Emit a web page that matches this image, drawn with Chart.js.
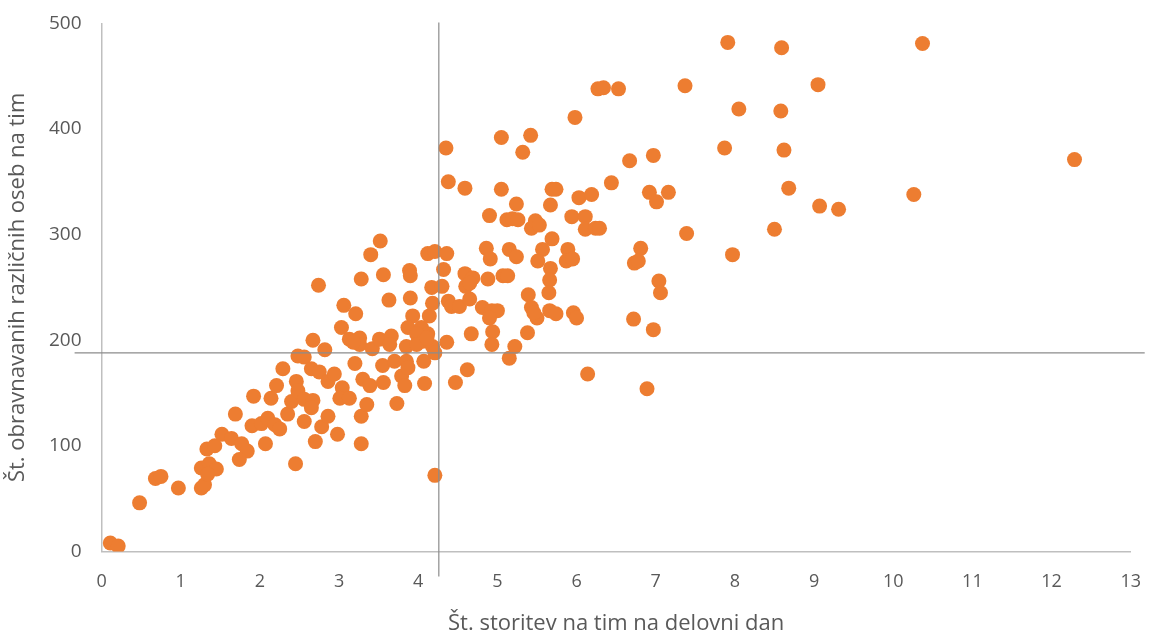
<!DOCTYPE html>
<html>
<head>
<meta charset="utf-8">
<script src="https://cdn.jsdelivr.net/npm/chart.js@4"></script>
<style>
  html, body { margin: 0; padding: 0; background: #fff; overflow: hidden; }
  #wrap { width: 1161px; height: 640px; margin-top: -8px; }
</style>
</head>
<body>
<div id="wrap"><canvas id="graf"></canvas></div>
<script>
// St. storitev na tim na delovni dan (x)
const storitve = [
  0.11, 0.21, 0.48, 0.68, 0.75, 0.97, 1.26, 1.30, 1.26, 1.36, 1.45, 1.34, 1.33, 1.43, 1.52, 1.64,
  1.77, 1.84, 1.74, 1.69, 1.92, 2.14, 2.21, 1.90, 2.02, 2.10, 2.19, 2.25, 2.35, 2.40, 2.07, 2.45,
  2.46, 2.48, 2.56, 2.67, 2.65, 2.29, 2.48, 2.56, 2.65, 2.75, 2.67, 2.82, 2.74, 2.56, 2.70, 2.78,
  2.86, 2.98, 2.86, 2.94, 3.04, 3.01, 3.13, 3.03, 3.06, 3.21, 3.13, 3.26, 3.26, 3.18, 3.20, 3.28,
  3.40, 3.52, 3.56, 3.28, 3.28, 3.35, 3.30, 3.39, 3.42, 3.51, 3.66, 3.55, 3.56, 3.70, 3.73, 3.79,
  3.83, 3.85, 3.87, 3.63, 3.89, 3.90, 3.90, 3.93, 4.14, 3.87, 4.04, 4.12, 3.98, 3.64, 3.85, 4.06,
  4.18, 4.21, 3.98, 4.11, 4.36, 4.07, 4.08, 4.21, 4.12, 4.21, 4.36, 4.32, 4.17, 4.30, 4.18, 4.38,
  4.42, 4.52, 4.65, 4.59, 4.69, 4.60, 4.65, 4.35, 4.38, 4.59, 4.62, 4.47, 4.67,
  5.05, 5.42, 5.32, 5.98, 5.05, 5.24, 4.90, 5.12, 5.19, 5.26, 5.43, 5.48, 5.53, 5.69, 5.74, 5.67,
  6.03, 6.19, 5.94, 6.11, 6.11, 6.24, 5.69, 4.86, 4.91, 5.15, 5.24, 5.57, 5.51, 5.89, 5.87, 5.95,
  5.67, 4.88, 5.07, 5.13, 5.66, 5.65, 5.39, 5.43, 5.50, 5.46, 4.81, 4.93, 5.00, 4.90, 5.66, 5.74,
  5.96, 6.00, 4.94, 5.38, 4.93, 5.22, 5.15, 6.14,
  6.27, 6.34, 6.53, 7.37, 9.05, 7.91, 8.59, 10.37, 8.05, 8.58, 7.87, 8.62, 6.67, 6.97, 6.44, 6.92,
  7.16, 7.01, 8.68, 9.07, 9.31, 6.29, 7.39, 8.50, 6.81, 6.73, 6.78, 7.97, 7.04, 7.06, 6.72, 6.97,
  6.89, 12.29, 10.26
];

// St. obravnavanih razlicnih oseb na tim (y)
const osebe = [
  8, 5, 46, 69, 71, 60, 60, 63, 79, 83, 78, 73, 97, 100, 111, 107,
  102, 95, 87, 130, 147, 145, 157, 119, 121, 126, 120, 116, 130, 142, 102, 83,
  161, 152, 144, 143, 136, 173, 185, 184, 173, 170, 200, 191, 252, 123, 104, 118,
  128, 111, 161, 168, 155, 145, 145, 212, 233, 225, 201, 202, 196, 198, 178, 258,
  281, 294, 262, 128, 102, 139, 163, 157, 192, 201, 204, 176, 160, 180, 140, 166,
  157, 180, 174, 238, 266, 261, 240, 223, 223, 212, 212, 206, 206, 196, 194, 199,
  194, 188, 196, 202, 198, 180, 159, 72, 282, 284, 282, 267, 250, 251, 235, 237,
  232, 232, 239, 263, 259, 251, 254, 382, 350, 344, 172, 160, 206,
  392, 394, 378, 411, 343, 329, 318, 314, 315, 314, 306, 313, 309, 343, 343, 328,
  335, 338, 317, 317, 305, 306, 296, 287, 277, 286, 279, 286, 275, 286, 275, 277,
  268, 258, 261, 261, 257, 245, 243, 231, 221, 226, 231, 228, 228, 221, 228, 225,
  226, 221, 208, 207, 196, 194, 183, 168,
  438, 439, 438, 441, 442, 482, 477, 481, 419, 417, 382, 380, 370, 375, 349, 340,
  340, 331, 344, 327, 324, 306, 301, 305, 287, 273, 275, 281, 256, 245, 220, 210,
  154, 371, 338
];

// povprecji (crti skozi graf)
const povprecjeStoritev = 4.26;
const povprecjeOseb = 188;

const tocke = storitve.map((x, i) => ({ x: x, y: osebe[i] }));

const crtePovprecja = {
  id: 'crtePovprecja',
  afterDatasetsDraw(chart) {
    const { ctx, chartArea, scales } = chart;
    const px = scales.x.getPixelForValue(povprecjeStoritev);
    const py = scales.y.getPixelForValue(povprecjeOseb);
    ctx.save();
    ctx.strokeStyle = '#8c8c8c';
    ctx.lineWidth = 1.2;
    ctx.beginPath();
    ctx.moveTo(px, chartArea.top - 1);
    ctx.lineTo(px, chartArea.bottom + 25);
    ctx.moveTo(chartArea.left - 27, py);
    ctx.lineTo(chartArea.right + 14, py);
    ctx.stroke();
    ctx.restore();
  }
};

const pisava = "'Open Sans', 'Noto Sans', sans-serif";

new Chart(document.getElementById('graf'), {
  type: 'scatter',
  data: {
    datasets: [{
      data: tocke,
      backgroundColor: '#ED7D31',
      borderColor: '#ED7D31',
      borderWidth: 0,
      pointRadius: 7.5,
      pointHoverRadius: 7.5
    }]
  },
  options: {
    responsive: true,
    maintainAspectRatio: false,
    animation: false,
    layout: { padding: { top: 3, right: 0, left: 7, bottom: -3 } },
    plugins: {
      legend: { display: false },
      tooltip: { enabled: false }
    },
    scales: {
      x: {
        type: 'linear',
        min: 0,
        max: 13,
        grid: { display: false, drawTicks: false },
        border: { display: true, color: '#bfbfbf', width: 1.5 },
        ticks: {
          stepSize: 1,
          padding: 20,
          color: '#595959',
          font: { family: pisava, size: 18 }
        },
        title: {
          display: true,
          text: 'Št. storitev na tim na delovni dan',
          color: '#595959',
          font: { family: pisava, size: 22, lineHeight: 1.0 },
          padding: { top: 0, bottom: 0 }
        }
      },
      y: {
        min: 0,
        max: 500,
        grid: { display: false, drawTicks: false },
        border: { display: true, color: '#bfbfbf', width: 1.5 },
        ticks: {
          stepSize: 100,
          padding: 20,
          color: '#595959',
          font: { family: pisava, size: 19 }
        },
        title: {
          display: true,
          text: 'Št. obravnavanih različnih oseb na tim',
          color: '#595959',
          font: { family: pisava, size: 22, lineHeight: 1.0 },
          padding: { top: 0, bottom: 0 }
        }
      }
    }
  },
  plugins: [crtePovprecja]
});
</script>
</body>
</html>
